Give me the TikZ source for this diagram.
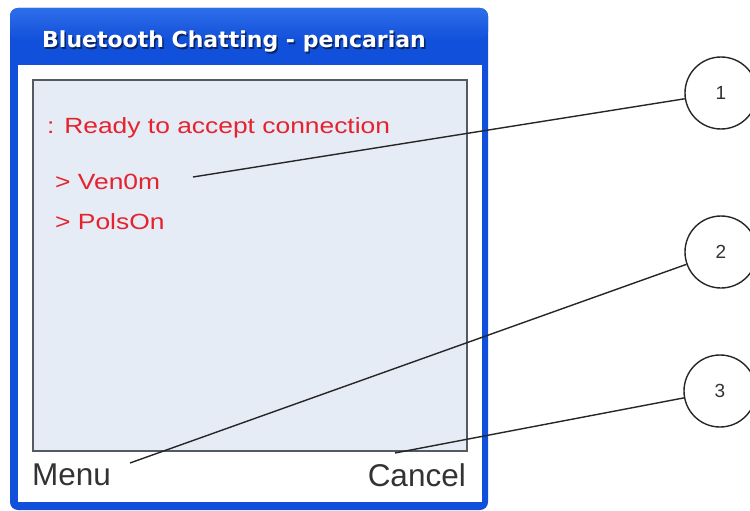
\documentclass[tikz,border=0pt]{standalone}
\usepackage{fontspec}
\setmainfont{Liberation Sans}
\newfontfamily\titlefont{DejaVu Sans}
\newfontfamily\msgfont[FakeStretch=1.2]{Liberation Sans}
\definecolor{xpblue}{HTML}{1150DA}
\definecolor{xptop}{HTML}{2F6EEA}
\definecolor{screenfill}{HTML}{E6ECF5}
\definecolor{screenedge}{HTML}{555A60}
\definecolor{msgred}{HTML}{E5222E}
\definecolor{softkey}{HTML}{333333}
\tikzset{
  msg/.style={anchor=west, inner sep=1pt, text=msgred, font=\msgfont\fontsize{22}{25}\selectfont},
  softlabel/.style={inner sep=1pt, text=softkey, font=\fontsize{31.5}{34}\selectfont},
  callout/.style={circle, draw=black!85, line width=1.4pt, minimum size=72pt, inner sep=0pt,
    text=softkey, font=\fontsize{19}{21}\selectfont},
  leader/.style={draw=black!85, line width=1.4pt},
  titletext/.style={anchor=west, inner sep=0pt, font=\titlefont\bfseries\fontsize{22}{25}\selectfont},
}
\begin{document}
\begin{tikzpicture}[x=1pt, y=-1pt]
  \useasboundingbox (0,0) rectangle (750,511);
  \fill[white] (0,0) rectangle (750,511);

  % window frame with rounded title bar
  \fill[xpblue, rounded corners=8pt] (10,510) -- (10,8) -- (488,8) -- (488,510) -- cycle;
  \shade[top color=xptop, bottom color=xpblue, rounded corners=8pt]
    (10,40) -- (10,8) -- (488,8) -- (488,40) -- cycle;
  \fill[white] (18,65) rectangle (482,502);

  % title text with a soft drop shadow
  \node[titletext, text=black!55!xpblue] at (43.5,43.5) {Bluetooth Chatting - pencarian};
  \node[titletext, text=white] (title) at (42,42) {Bluetooth Chatting - pencarian};

  % message screen
  \draw[fill=screenfill, draw=screenedge, line width=1.8pt] (33,80) rectangle (467,451);
  \node[msg] (ready)  at (46,128) {: Ready to accept connection};
  \node[msg] (venom)  at (54,182) {> Ven0m};
  \node[msg] (poison) at (54,222) {> PolsOn};

  % soft keys
  \node[softlabel, anchor=west] (menu)   at (31,475) {Menu};
  \node[softlabel, anchor=east] (cancel) at (467,475) {Cancel};

  % numbered callouts
  \node[callout] (c1) at (721,93)  {1};
  \node[callout] (c2) at (721,252) {2};
  \node[callout] (c3) at (720,391) {3};

  \coordinate (p1) at (193,177);
  \coordinate (p2) at (130,463);
  \coordinate (p3) at (395,453);
  \draw[leader] (p1) -- (c1);
  \draw[leader] (p2) -- (c2);
  \draw[leader] (p3) -- (c3);
\end{tikzpicture}
\end{document}
